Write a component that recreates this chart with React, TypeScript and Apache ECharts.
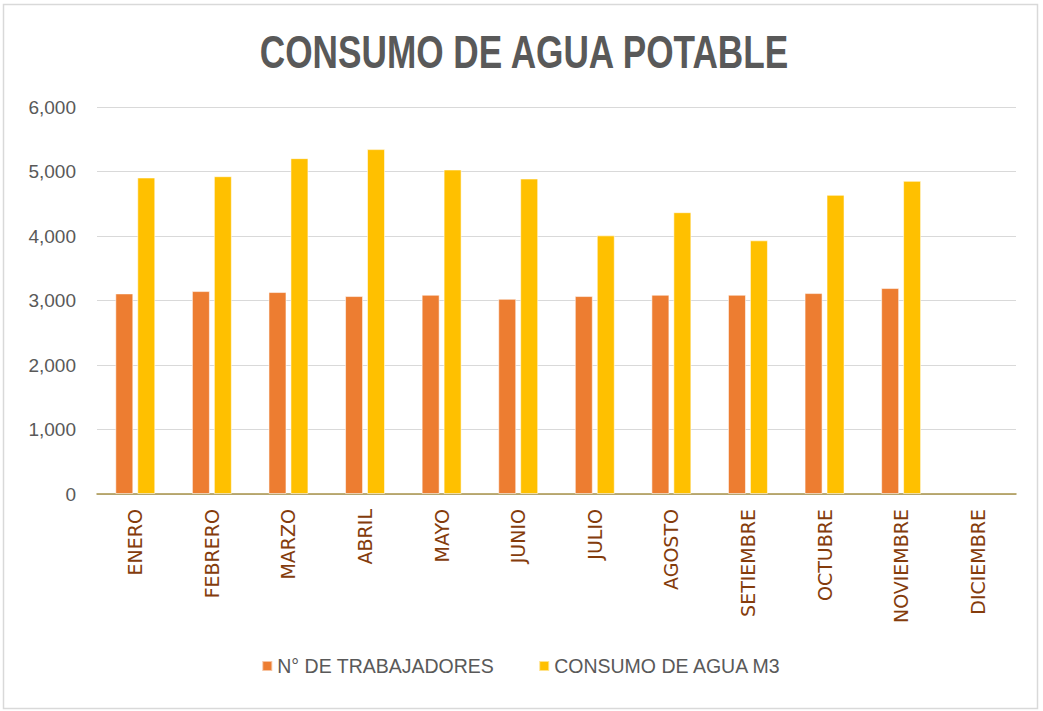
import React, { useEffect, useRef } from "react";
import * as echarts from "echarts";

const titleText = "CONSUMO DE AGUA POTABLE";
const months = [
  "ENERO", "FEBRERO", "MARZO", "ABRIL", "MAYO", "JUNIO",
  "JULIO", "AGOSTO", "SETIEMBRE", "OCTUBRE", "NOVIEMBRE", "DICIEMBRE",
];
const seriesNames = ["N° DE TRABAJADORES", "CONSUMO DE AGUA M3"];
const trabajadores = [3110, 3146, 3131, 3069, 3089, 3026, 3069, 3089, 3089, 3115, 3193, null];
const consumoAgua = [4907, 4927, 5207, 5347, 5031, 4891, 4010, 4369, 3933, 4638, 4855, null];
const yTicks = { min: 0, max: 6000, interval: 1000 };

export default function App() {
  const ref = useRef<HTMLDivElement>(null);
  useEffect(() => {
    if (!ref.current) return;
    const chart = echarts.init(ref.current, null, { renderer: "svg" });
    chart.setOption({
      animation: false,
      backgroundColor: "#ffffff",
      graphic: [
        {
          type: "rect",
          shape: { x: 3.5, y: 4.5, width: 1034, height: 704 },
          style: { fill: "none", stroke: "#D9D9D9", lineWidth: 1.5 },
          silent: true,
        },
        {
          type: "text",
          x: 524,
          y: 52,
          scaleX: 0.765,
          silent: true,
          style: {
            text: titleText,
            x: 0,
            y: 0,
            textAlign: "center",
            textVerticalAlign: "middle",
            fontFamily: "'Liberation Sans', sans-serif",
            fontWeight: "bold",
            fontSize: 46,
            fill: "#595959",
          },
        },
      ],
      legend: {
        bottom: 30,
        left: "center",
        itemWidth: 10,
        itemHeight: 10,
        itemGap: 44,
        icon: "rect",
        textStyle: {
          fontFamily: "'Liberation Sans', sans-serif",
          fontSize: 19.5,
          color: "#595959",
        },
        data: seriesNames,
      },
      grid: { left: 97, right: 27, top: 107, bottom: 217, containLabel: false },
      xAxis: {
        type: "category",
        data: months,
        axisLine: { lineStyle: { color: "#A8934A", width: 1.5 } },
        axisTick: { show: false },
        axisLabel: {
          rotate: 90,
          margin: 15,
          fontFamily: "'DejaVu Sans', sans-serif",
          fontSize: 19,
          color: "#843C0C",
          interval: 0,
        },
      },
      yAxis: {
        type: "value",
        min: yTicks.min,
        max: yTicks.max,
        interval: yTicks.interval,
        axisLine: { show: false },
        axisTick: { show: false },
        splitLine: { lineStyle: { color: "#D9D9D9", width: 1.2 } },
        axisLabel: {
          margin: 21,
          fontFamily: "'Liberation Sans', sans-serif",
          fontSize: 19,
          color: "#595959",
          formatter: (v: number) => v.toLocaleString("en-US"),
        },
      },
      series: [
        {
          name: seriesNames[0],
          type: "bar",
          data: trabajadores,
          barWidth: 18,
          barGap: "22%",
          itemStyle: { color: "#ED7D31", borderColor: "rgba(255,255,255,0.55)", borderWidth: 1 },
        },
        {
          name: seriesNames[1],
          type: "bar",
          data: consumoAgua,
          barWidth: 18,
          itemStyle: { color: "#FFC000", borderColor: "rgba(255,255,255,0.55)", borderWidth: 1 },
        },
      ],
    });
    return () => chart.dispose();
  }, []);
  return (
    <div
      ref={ref}
      style={{ position: "fixed", left: 0, top: 0, width: 1043, height: 711 }}
    />
  );
}
